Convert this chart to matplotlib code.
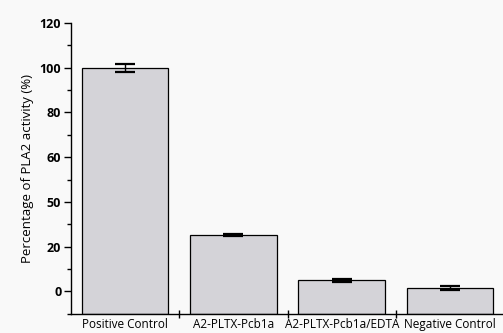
import matplotlib
matplotlib.use('Agg')
import matplotlib.pyplot as plt
from matplotlib.ticker import MultipleLocator

plt.rcParams['font.family'] = ['Open Sans', 'DejaVu Sans']

# 数据
groups = ['Positive Control', 'A2-PLTX-Pcb1a', 'A2-PLTX-Pcb1a/EDTA', 'Negative Control']
activity = [100.0, 25.3, 4.9, 1.5]
errors = [1.8, 0.5, 0.8, 0.7]
# 原图y轴标签就是这样（40写成了50）
ytick_pos = [0, 20, 40, 60, 80, 100, 120]
ytick_labels = ['0', '20', '50', '60', '80', '100', '120']
base = -10  # 柱子从坐标轴底部开始

bg = '#f9f9f9'
fig = plt.figure(figsize=(5.03, 3.33), dpi=100, facecolor=bg)
ax = fig.add_axes([0.1412, 0.058, 0.861, 0.873], facecolor=bg)

x = list(range(len(groups)))
heights = [a - base for a in activity]
ax.bar(x, heights, width=0.8, bottom=base, color='#d4d3d8', edgecolor='black',
       linewidth=0.9, zorder=2)
ax.errorbar(x, activity, yerr=errors, fmt='none', ecolor='black', elinewidth=1.0,
            capsize=7.5, capthick=1.6, zorder=4)

ax.set_xlim(-0.5, 3.5)
ax.set_ylim(-10, 120)
ax.spines['top'].set_visible(False)
ax.spines['right'].set_visible(False)
ax.spines['left'].set_linewidth(1.0)
ax.spines['bottom'].set_linewidth(1.0)

ax.set_yticks(ytick_pos)
ax.set_yticklabels(ytick_labels, fontweight='bold', fontsize=9)
ax.yaxis.set_minor_locator(MultipleLocator(10))
ax.tick_params(axis='y', which='major', direction='out', length=5, width=1, pad=2)
ax.tick_params(axis='y', which='minor', direction='out', length=3, width=1)

ax.set_xticks(x)
ax.set_xticklabels(groups, fontsize=8.5)
ax.set_xticks([0.5, 1.5, 2.5], minor=True)
ax.tick_params(axis='x', which='major', length=0, pad=3)
ax.tick_params(axis='x', which='minor', direction='inout', length=6, width=1)

ax.set_ylabel('Percentage of PLA2 activity (%)', fontsize=9.5, labelpad=4)

fig.savefig('out.png', dpi=100, facecolor=bg)
